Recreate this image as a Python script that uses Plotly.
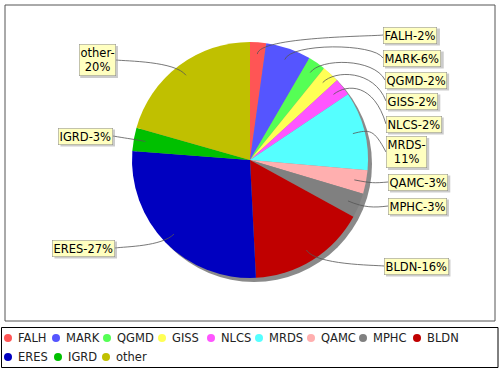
import math
import plotly.graph_objects as go

# ---- data ----
categories = ["FALH", "MARK", "QGMD", "GISS", "NLCS", "MRDS", "QAMC", "MPHC",
              "BLDN", "ERES", "IGRD", "other"]
shares = [2.2, 6.2, 2.4, 2.4, 2.4, 10.8, 3.2, 3.4, 16.2, 27.0, 3.2, 20.6]
label_texts = ["FALH-2%", "MARK-6%", "QGMD-2%", "GISS-2%", "NLCS-2%", "MRDS-<br>11%",
               "QAMC-3%", "MPHC-3%", "BLDN-16%", "ERES-27%", "IGRD-3%", "other-<br>20%"]

# ---- styles / layout ----
colors = ["#FF5555", "#5555FF", "#55FF55", "#FFFF55", "#FF55FF", "#55FFFF",
          "#FFAFAF", "#808080", "#C00000", "#0000C0", "#00C000", "#C0C000"]
W, H = 500, 370
CX, CY, R = 250, 160, 118
SHADOW = 4
FS = 11.5
FONT = dict(family="DejaVu Sans", size=FS, color="#000000")
# label box anchor: (side, edge x, centre y)
label_pos = [("r", 383, 35), ("r", 383, 58), ("r", 385, 80), ("r", 386, 101),
             ("r", 386, 124), ("r", 386, 152), ("r", 388, 182), ("r", 388, 206),
             ("r", 384, 266), ("l", 115, 248), ("l", 113, 136), ("l", 116, 60)]
legend_x = [8, 56, 107, 162, 211, 259, 311, 363, 417, 8, 58, 106]
legend_y = [338] * 9 + [357] * 3

# approximate DejaVu Sans advance widths (per 1000 em) for shadow-box sizing
CW = {"F": 575, "A": 684, "L": 557, "H": 752, "-": 361, "%": 950, "M": 863, "R": 695,
      "K": 656, "Q": 787, "G": 775, "D": 770, "I": 295, "S": 635, "N": 748, "C": 698,
      "P": 603, "B": 686, "E": 632, "o": 612, "t": 392, "h": 634, "e": 615, "r": 411}


def text_w(s):
    return sum(CW.get(c, 636) for c in s) * FS / 1000.0


def dom(cx, cy, r):
    return dict(x=[(cx - r) / W, (cx + r) / W], y=[1 - (cy + r) / H, 1 - (cy - r) / H])


fig = go.Figure()
# pie shadow
fig.add_trace(go.Pie(values=[1], labels=["shadow"], marker=dict(colors=["#8a8a8a"]),
                     textinfo="none", hoverinfo="skip", showlegend=False, sort=False,
                     domain=dom(CX + SHADOW, CY + SHADOW, R)))
fig.add_trace(go.Pie(values=shares, labels=categories, marker=dict(colors=colors, line=dict(width=0)),
                     textinfo="none", sort=False, direction="clockwise", rotation=0,
                     showlegend=False, domain=dom(CX, CY, R)))

shapes = []
annotations = []
total = sum(shares)
cum = 0.0
RL = R * 1.05
for cat, val, txt, (side, ex, ey) in zip(categories, shares, label_texts, label_pos):
    mid = (cum + val / 2) / total * 2 * math.pi
    cum += val
    sx, sy = math.sin(mid), -math.cos(mid)
    lx, ly = CX + sx * R * 0.9, CY + sy * R * 0.9
    elx, ely = CX + sx * RL, CY + sy * RL
    ax = CX + RL if side == "r" else CX - RL
    path = f"M {ex},{ey} C {ax},{ely} {elx},{ely} {lx},{ly}"
    shapes.append(dict(type="path", path=path, xref="x", yref="y",
                       line=dict(color="#555555", width=0.8)))
    # label shadow box
    lines = txt.split("<br>")
    bw = max(text_w(s) for s in lines) + 3
    bh = len(lines) * FS * 1.3 + 2
    x0 = ex if side == "r" else ex - bw
    shapes.append(dict(type="rect", xref="x", yref="y", x0=x0 + 2, x1=x0 + bw + 2,
                       y0=ey - bh / 2 + 2, y1=ey + bh / 2 + 2,
                       fillcolor="rgba(151,151,151,0.5)", line=dict(width=0)))
    xanchor = "left" if side == "r" else "right"
    annotations.append(dict(x=ex, y=ey, xref="x", yref="y", text=txt, showarrow=False,
                            xanchor=xanchor, yanchor="middle", align="center",
                            font=FONT, borderpad=1, bgcolor="#FFFFC0",
                            bordercolor="#888888", borderwidth=0.5))

# legend drawn manually with circle symbols
fig.add_trace(go.Scatter(x=legend_x, y=legend_y, mode="markers",
                         marker=dict(color=colors, size=8, symbol="circle"),
                         hoverinfo="skip", showlegend=False))
for cat, lx_, ly_ in zip(categories, legend_x, legend_y):
    annotations.append(dict(x=lx_ + 9, y=ly_, xref="x", yref="y", text=cat, showarrow=False,
                            xanchor="left", yanchor="middle", font=dict(FONT, color="#222222"),
                            borderpad=0))

# frames
shapes.append(dict(type="rect", xref="x", yref="y", x0=5, y0=5, x1=495, y1=321,
                   line=dict(color="#555555", width=1)))
shapes.append(dict(type="rect", xref="x", yref="y", x0=1.5, y0=327.5, x1=498, y1=367.5,
                   line=dict(color="#000000", width=1)))

fig.update_layout(
    width=W, height=H, margin=dict(l=0, r=0, t=0, b=0),
    paper_bgcolor="white", plot_bgcolor="rgba(0,0,0,0)",
    xaxis=dict(range=[0, W], visible=False, fixedrange=True),
    yaxis=dict(range=[H, 0], visible=False, fixedrange=True),
    shapes=shapes, annotations=annotations, showlegend=False,
)
fig.write_html("out.html", config={"displayModeBar": False},
               post_script="document.body.style.margin='0';document.body.style.overflow='hidden';")
